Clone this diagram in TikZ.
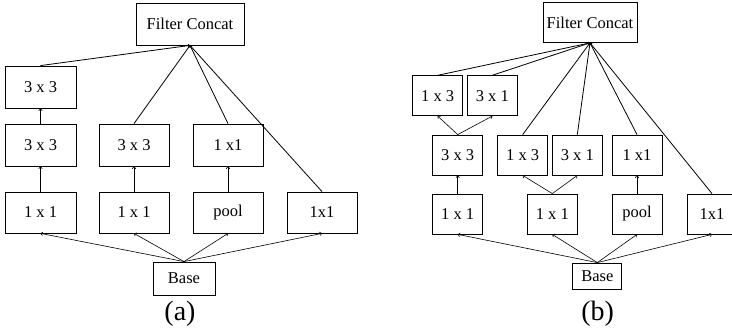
\documentclass[tikz,border=0pt]{standalone}
\usepackage{fontspec}
\setmainfont{Liberation Serif}
\usetikzlibrary{arrows.meta}
\begin{document}
\begin{tikzpicture}[x=1pt,y=-1pt,
  every node/.style={font=\fontsize{16.5}{18}\selectfont, inner sep=0pt},
  bx/.style={draw, line width=0.8pt},
  boxa/.style={bx, minimum width=71pt, minimum height=42pt},
  boxb/.style={bx, minimum width=50pt, minimum height=40pt},
  lbl/.style={font=\fontsize{28}{30}\selectfont},
  ar/.style={line width=0.6pt, -{To[length=2.5pt,width=4pt]}},
  ln/.style={line width=0.8pt, -{To[length=2pt,width=3pt]}}]
\useasboundingbox (0,0) rectangle (732,336);
% ---------- (a) ----------
\node[bx, minimum width=108pt, minimum height=42pt] (ac) at (190,24) {Filter Concat};
\node[boxa] (a1) at (40.5,87) {3 x 3};
\node[boxa] (a2) at (40.5,145) {3 x 3};
\node[boxa, minimum width=70pt] (a3) at (134,145) {3 x 3};
\node[boxa, minimum width=70pt] (a4) at (228,145) {1 x1};
\node[boxa, minimum height=41pt] (a5) at (40.5,212.5) {1 x 1};
\node[boxa, minimum width=70pt, minimum height=41pt] (a6) at (134,212.5) {1 x 1};
\node[boxa, minimum width=70pt, minimum height=41pt] (a7) at (228,212.5) {pool};
\node[boxa, minimum width=70pt, minimum height=41pt] (a8) at (322,212.5) {1x1};
\node[bx, minimum width=62pt, minimum height=33pt] (ab) at (184,278.5) {Base};
\node[lbl] (la) at (180,314) {(a)};
\draw[ln] (a1.north) -- (ac.south);
\draw[ln] (a3.north) -- (ac.south);
\draw[ln] (a4.north) -- (ac.south);
\draw[ln] (a8.north) -- (ac.south);
\draw[ar] (a2.north) -- (a1.south);
\draw[ar] (a5.north) -- (a2.south);
\draw[ar] (a6.north) -- (a3.south);
\draw[ar] (a7.north) -- (a4.south);
\draw[ar] (ab.north) -- (a5.south);
\draw[ar] (ab.north) -- (a6.south);
\draw[ar] (ab.north) -- (a7.south);
\draw[ar] (ab.north) -- (a8.south);
% ---------- (b) ----------
\node[bx, minimum width=94pt, minimum height=40pt] (bc) at (590,22.5) {Filter Concat};
\node[boxb] (b1) at (437.7,95.7) {1 x 3};
\node[boxb] (b2) at (492.3,95.7) {3 x 1};
\node[boxb] (b3) at (457.7,155) {3 x 3};
\node[boxb] (b4) at (522.7,155) {1 x 3};
\node[boxb] (b5) at (577.3,155) {3 x 1};
\node[boxb] (b6) at (637,155) {1 x1};
\node[boxb] (b7) at (457.7,214) {1 x 1};
\node[boxb] (b8) at (552.3,214) {1 x 1};
\node[boxb] (b9) at (637,214) {pool};
\node[boxb] (b10) at (712,214) {1x1};
\node[bx, minimum width=49pt, minimum height=26pt] (bb) at (597.3,276) {Base};
\node[lbl] (lb) at (597.7,314) {(b)};
\draw[ln] (b1.north) -- (bc.south);
\draw[ln] (b2.north) -- (bc.south);
\draw[ln] (b4.north) -- (bc.south);
\draw[ln] (b5.north) -- (bc.south);
\draw[ln] (b6.north) -- (bc.south);
\draw[ln] (b10.north) -- (bc.south);
\draw[ar] (b3.north) -- (b1.south);
\draw[ar] (b3.north) -- (b2.south);
\draw[ar] (b7.north) -- (b3.south);
\draw[ar] (b8.north) -- (b4.south);
\draw[ar] (b8.north) -- (b5.south);
\draw[ar] (b9.north) -- (b6.south);
\draw[ar] (bb.north) -- (b7.south);
\draw[ar] (bb.north) -- (b8.south);
\draw[ar] (bb.north) -- (b9.south);
\draw[ar] (bb.north) -- (b10.south);
\end{tikzpicture}
\end{document}
